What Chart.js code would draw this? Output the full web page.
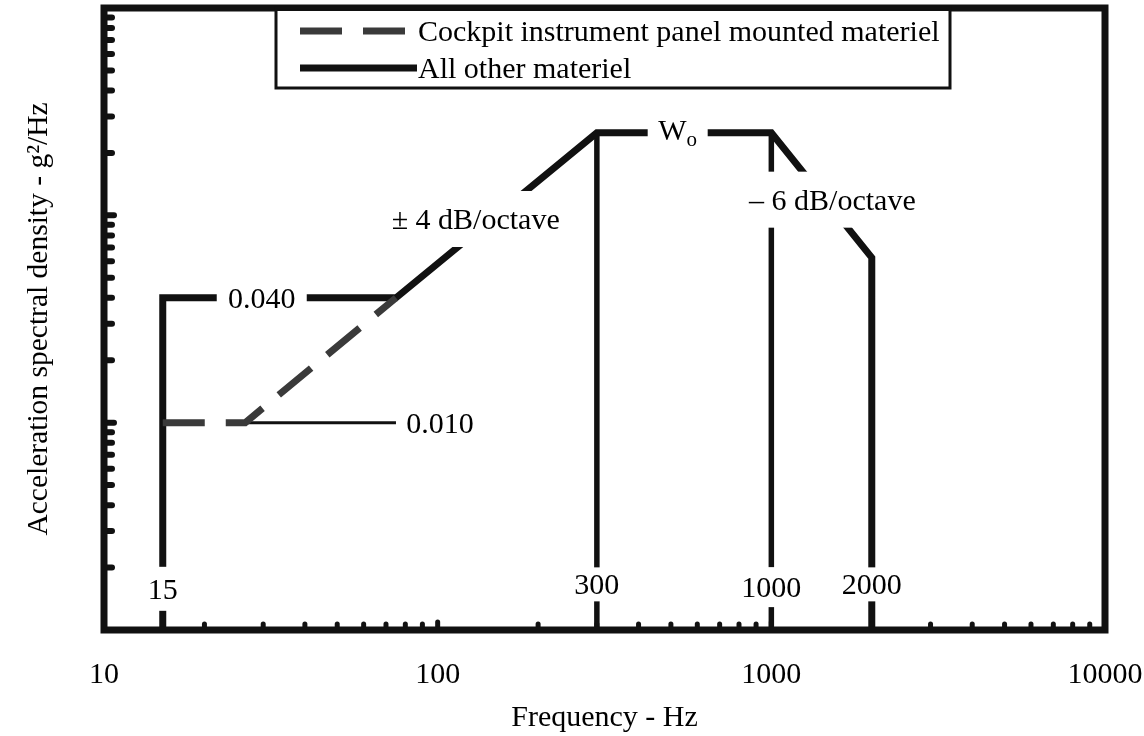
<!DOCTYPE html>
<html>
<head>
<meta charset="utf-8">
<script src="https://cdn.jsdelivr.net/npm/chart.js@4.4.1/dist/chart.umd.min.js"></script>
<style>
  html, body { margin: 0; padding: 0; background: #fff; }
  #wrap { width: 1144px; height: 736px; }
</style>
</head>
<body>
<div id="wrap"><canvas id="psdChart" width="1144" height="736"></canvas></div>
<script>
// Random vibration test profile, frequency in Hz, PSD in g^2/Hz
const otherFreq = [15, 15, 75, 300, 1000, 2000, 2000];
const otherPsd = [0.001, 0.04, 0.04, 0.25, 0.25, 0.0625, 0.001];

const cockpitFreq = [15, 26.5, 75];
const cockpitPsd = [0.01, 0.01, 0.04];

// thin leader line at the 0.010 level
const leaderFreq = [26.5, 75];
const leaderPsd = [0.01, 0.01];

// vertical guides dropped from the plateau corners
const guideFreq = [300, 1000];
const guideLow = 0.001;
const guideHigh = 0.25;

const xRange = [10, 10000];
const yRange = [0.001, 1];
const xTickValues = [10, 100, 1000, 10000];

const seriesNames = ['Cockpit instrument panel mounted materiel', 'All other materiel'];

// annotations written on the plot
const noteText = ['0.040', '0.010', '\u00b1 4 dB/octave', 'W', '\u2013 6 dB/octave', '15', '300', '1000', '2000'];
const noteFreq = [29.7, 101.7, 130, 524, 1524, 15, 300, 1000, 2000];
const notePsd = [0.04, 0.01, 0.096, 0.25, 0.119, 0.00158, 0.00166, 0.00161, 0.00166];

const FONT = 'Liberation Serif, Times New Roman, serif';
const SIZE = 30;
const INK = '#111';
const DASH_INK = '#3a3a3a';

function pts(xs, ys) {
  return xs.map((x, i) => ({x: x, y: ys[i]}));
}

const datasets = [
  {
    label: seriesNames[0],
    data: pts(cockpitFreq, cockpitPsd),
    borderColor: DASH_INK,
    borderWidth: 7,
    borderDash: [42, 21],
    inLegend: true
  },
  {
    label: seriesNames[1],
    data: pts(otherFreq, otherPsd),
    borderColor: INK,
    borderWidth: 7,
    inLegend: true
  },
  {
    label: 'leader',
    data: pts(leaderFreq, leaderPsd),
    borderColor: INK,
    borderWidth: 3
  }
];
guideFreq.forEach(f => {
  datasets.push({
    label: 'guide ' + f,
    data: [{x: f, y: guideLow}, {x: f, y: guideHigh}],
    borderColor: INK,
    borderWidth: 5.5
  });
});
datasets.forEach(d => {
  d.showLine = true;
  d.pointRadius = 0;
  d.fill = false;
  d.tension = 0;
  d.borderJoinStyle = 'miter';
  d.borderCapStyle = 'butt';
});

// white-backed text boxes: half width, half height of the cleared area
const noteBox = [[45, 18], [0, 0], [88, 28], [30, 14], [92, 28], [18, 22], [26, 17], [32, 20], [32, 17]];

const notesPlugin = {
  id: 'notes',
  afterDatasetsDraw(chart) {
    const {ctx, scales: {x, y}} = chart;
    ctx.save();
    noteText.forEach((txt, i) => {
      const cx = x.getPixelForValue(noteFreq[i]);
      const cy = y.getPixelForValue(notePsd[i]);
      const [hw, hh] = noteBox[i];
      if (hw > 0) {
        ctx.fillStyle = '#fff';
        ctx.fillRect(cx - hw, cy - hh, hw * 2, hh * 2);
      }
      ctx.fillStyle = '#000';
      ctx.textBaseline = 'alphabetic';
      ctx.font = SIZE + 'px ' + FONT;
      if (txt === 'W') {
        ctx.textAlign = 'left';
        const w = ctx.measureText('W').width;
        ctx.font = '21px ' + FONT;
        const w2 = ctx.measureText('o').width;
        const left = cx - (w + w2) / 2;
        ctx.font = SIZE + 'px ' + FONT;
        ctx.fillText('W', left, cy + 7);
        ctx.font = '21px ' + FONT;
        ctx.fillText('o', left + w, cy + 13);
      } else {
        ctx.textAlign = 'center';
        ctx.fillText(txt, cx, cy + 10);
      }
    });
    ctx.restore();
  }
};

const framePlugin = {
  id: 'frame',
  afterDraw(chart) {
    const {ctx, chartArea: a, scales: {x, y}} = chart;
    ctx.save();
    ctx.strokeStyle = INK;
    ctx.lineCap = 'round';
    // small inward tick bumps on the bottom and left axes
    for (let dec = xRange[0]; dec < xRange[1]; dec *= 10) {
      for (let k = 2; k <= 10; k++) {
        const px = x.getPixelForValue(k * dec);
        if (px >= a.right - 2) continue;
        ctx.lineWidth = 5;
        ctx.beginPath();
        ctx.moveTo(px, a.bottom);
        ctx.lineTo(px, a.bottom - (k === 10 ? 8 : 6));
        ctx.stroke();
      }
    }
    for (let dec = yRange[0]; dec < yRange[1] * 0.99; dec *= 10) {
      for (let k = 2; k <= 10; k++) {
        const py = y.getPixelForValue(k * dec);
        if (py <= a.top + 2) continue;
        ctx.lineWidth = 6;
        ctx.beginPath();
        ctx.moveTo(a.left, py);
        ctx.lineTo(a.left + (k === 10 ? 10 : 8), py);
        ctx.stroke();
      }
    }
    ctx.lineCap = 'butt';
    ctx.lineWidth = 7;
    ctx.strokeRect(a.left, a.top, a.right - a.left, a.bottom - a.top);

    // legend box hanging from the top edge
    const bx = 276, bw = 674, bh = 80;
    ctx.fillStyle = '#fff';
    ctx.fillRect(bx, a.top + 3, bw, bh - 3);
    ctx.lineWidth = 3;
    ctx.strokeRect(bx, a.top, bw, bh);
    ctx.font = SIZE + 'px ' + FONT;
    ctx.textAlign = 'left';
    ctx.textBaseline = 'alphabetic';
    const rows = chart.data.datasets.filter(d => d.inLegend);
    rows.forEach((d, i) => {
      const ry = a.top + 23 + i * 37;
      ctx.strokeStyle = d.borderColor;
      ctx.lineWidth = d.borderWidth;
      ctx.setLineDash(d.borderDash || []);
      ctx.beginPath();
      ctx.moveTo(300, ry);
      ctx.lineTo(417, ry);
      ctx.stroke();
      ctx.setLineDash([]);
      ctx.fillStyle = '#000';
      ctx.fillText(d.label, 418, ry + 10);
    });
    ctx.restore();
  }
};

const serifFont = {family: FONT, size: SIZE};

new Chart(document.getElementById('psdChart'), {
  type: 'scatter',
  data: {datasets: datasets},
  plugins: [notesPlugin, framePlugin],
  options: {
    responsive: false,
    animation: false,
    layout: {padding: {top: 8, right: 39, left: 0, bottom: 0}},
    plugins: {
      legend: {display: false},
      tooltip: {enabled: false}
    },
    scales: {
      x: {
        type: 'logarithmic',
        min: xRange[0],
        max: xRange[1],
        afterFit: s => {
          s.height = 106;
          s.paddingLeft = 0;
          s.paddingRight = 0;
        },
        afterBuildTicks: s => { s.ticks = xTickValues.map(v => ({value: v})); },
        grid: {display: false, drawTicks: false},
        border: {display: false},
        ticks: {
          color: '#000',
          font: serifFont,
          padding: 27,
          maxRotation: 0,
          autoSkip: false,
          callback: v => String(v)
        },
        title: {
          display: true,
          text: 'Frequency - Hz',
          color: '#000',
          font: serifFont,
          padding: {top: 0, bottom: 0}
        }
      },
      y: {
        type: 'logarithmic',
        min: yRange[0],
        max: yRange[1],
        afterFit: s => { s.width = 104; },
        grid: {display: false, drawTicks: false},
        border: {display: false},
        ticks: {display: false},
        title: {
          display: true,
          text: 'Acceleration spectral density - g\u00b2/Hz',
          color: '#000',
          font: {family: FONT, size: 29.5},
          padding: {top: 22, bottom: 0}
        }
      }
    }
  }
});
</script>
</body>
</html>
